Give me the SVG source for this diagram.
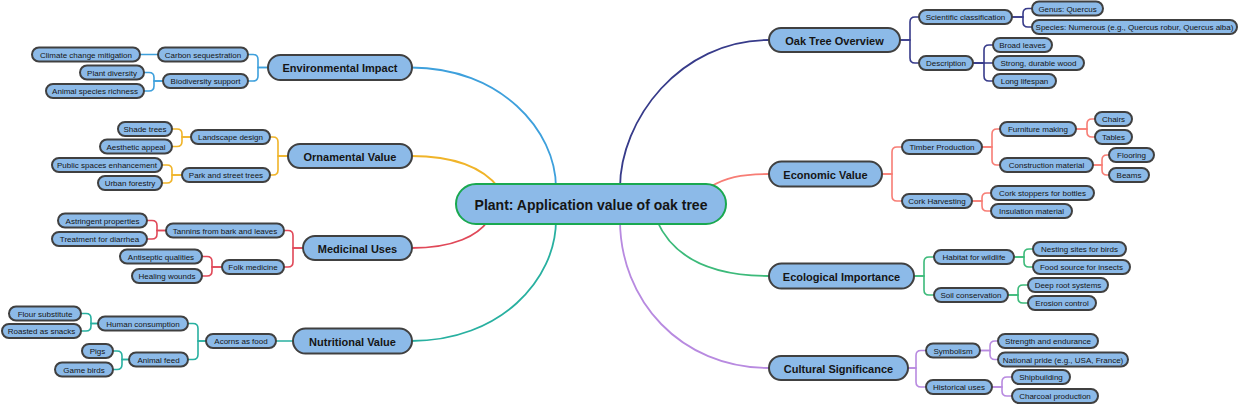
<svg xmlns="http://www.w3.org/2000/svg" width="1240" height="404" viewBox="0 0 1240 404">
<style>
.n{fill:#8cbae8;stroke:#404040;stroke-width:2}
.c{fill:#8cbae8;stroke:#1aa850;stroke-width:2}
text{font-family:"Liberation Sans",Arial,sans-serif;fill:#151515;text-anchor:middle;dominant-baseline:central}
.s{font-size:8px}
.m{font-size:11px;font-weight:bold}
.ct{font-size:14px;font-weight:bold}
.e{fill:none;stroke-width:1.6;stroke-linecap:round}
.mc{fill:none;stroke-width:1.8}
.env{stroke:#3ea0dc}.orn{stroke:#f0b429}.med{stroke:#e04858}.nut{stroke:#28b0a0}
.oak{stroke:#373b8a}.ecv{stroke:#f77d75}.eco{stroke:#3cba7a}.cul{stroke:#b88ae0}
</style>
<rect width="1240" height="404" fill="#ffffff"/>
<g id="connectors">
<path class="mc env" d="M411 67.5 C500 67.5,556 130,556 188"/>
<path class="mc orn" d="M411 156 C460 156,485 170,499 188"/>
<path class="mc med" d="M411 248 C455 248,478 235,488 221"/>
<path class="mc nut" d="M411 341 C500 341,556 280,556 220"/>
<path class="mc oak" d="M769 40 C680 40,620 120,620 188"/>
<path class="mc ecv" d="M769 174 C740 174,725 178,710 187"/>
<path class="mc eco" d="M769 276 C700 276,670 250,657 221"/>
<path class="mc cul" d="M769 368 C680 368,620 300,620 220"/>

<path class="e env" d="M268 67.5 H258 V59.5 Q258 54.5 253 54.5 H248"/>
<path class="e env" d="M268 67.5 H258 V76 Q258 81 253 81 H248"/>
<path class="e env" d="M158 54.5 H140"/>
<path class="e env" d="M163 81 H154 V77.5 Q154 72.5 149 72.5 H144"/>
<path class="e env" d="M163 81 H154 V86 Q154 91 149 91 H144"/>

<path class="e orn" d="M288 156 H278 V142 Q278 137 273 137 H270"/>
<path class="e orn" d="M288 156 H278 V170 Q278 175 273 175 H270"/>
<path class="e orn" d="M191 137 H182 V134 Q182 129 177 129 H172"/>
<path class="e orn" d="M191 137 H182 V141.5 Q182 146.5 177 146.5 H172"/>
<path class="e orn" d="M182 175 H172 V170 Q172 165 167 165 H162"/>
<path class="e orn" d="M182 175 H172 V178 Q172 183 167 183 H162"/>

<path class="e med" d="M303 248 H293 V235.5 Q293 230.5 288 230.5 H284"/>
<path class="e med" d="M303 248 H293 V262 Q293 267 288 267 H284"/>
<path class="e med" d="M166 230.5 H157 V225.5 Q157 220.5 152 220.5 H147"/>
<path class="e med" d="M166 230.5 H157 V234 Q157 239 152 239 H147"/>
<path class="e med" d="M222 267 H212 V261.5 Q212 256.5 207 256.5 H202"/>
<path class="e med" d="M222 267 H212 V271 Q212 276 207 276 H202"/>

<path class="e nut" d="M293 341 H276"/>
<path class="e nut" d="M206 341 H198 V328.5 Q198 323.5 193 323.5 H188"/>
<path class="e nut" d="M206 341 H198 V354.5 Q198 359.5 193 359.5 H188"/>
<path class="e nut" d="M98 323.5 H91 V318.5 Q91 313.5 86 313.5 H81"/>
<path class="e nut" d="M98 323.5 H91 V326 Q91 331 86 331 H81"/>
<path class="e nut" d="M129 359.5 H122 V356 Q122 351 117 351 H113"/>
<path class="e nut" d="M129 359.5 H122 V364.5 Q122 369.5 117 369.5 H113"/>

<path class="e oak" d="M900 40 H910 V22 Q910 17 915 17 H919"/>
<path class="e oak" d="M900 40 H910 V58 Q910 63 915 63 H919"/>
<path class="e oak" d="M1012 17 H1023 V13.5 Q1023 8.5 1028 8.5 H1032"/>
<path class="e oak" d="M1012 17 H1023 V22 Q1023 27 1028 27 H1032"/>
<path class="e oak" d="M973 63 H984 V50 Q984 45 989 45 H993"/>
<path class="e oak" d="M973 63 H993"/>
<path class="e oak" d="M973 63 H984 V76 Q984 81 989 81 H993"/>

<path class="e ecv" d="M882 174 H892 V152 Q892 147 897 147 H902"/>
<path class="e ecv" d="M882 174 H892 V196 Q892 201 897 201 H902"/>
<path class="e ecv" d="M982 147 H992 V134 Q992 129 997 129 H1000"/>
<path class="e ecv" d="M982 147 H992 V160 Q992 165 997 165 H1000"/>
<path class="e ecv" d="M1076 129 H1087 V124 Q1087 119 1092 119 H1095"/>
<path class="e ecv" d="M1076 129 H1087 V132 Q1087 137 1092 137 H1095"/>
<path class="e ecv" d="M1093 165 H1102 V160 Q1102 155 1107 155 H1109"/>
<path class="e ecv" d="M1093 165 H1102 V170 Q1102 175 1107 175 H1109"/>
<path class="e ecv" d="M972 201 H982 V198 Q982 193 987 193 H991"/>
<path class="e ecv" d="M972 201 H982 V206 Q982 211 987 211 H991"/>

<path class="e eco" d="M914 276 H924 V262 Q924 257 929 257 H934"/>
<path class="e eco" d="M914 276 H924 V290 Q924 295 929 295 H934"/>
<path class="e eco" d="M1014 257 H1024 V254 Q1024 249 1029 249 H1033"/>
<path class="e eco" d="M1014 257 H1024 V262 Q1024 267 1029 267 H1033"/>
<path class="e eco" d="M1008 295 H1018 V290 Q1018 285 1023 285 H1028"/>
<path class="e eco" d="M1008 295 H1018 V298 Q1018 303 1023 303 H1028"/>

<path class="e cul" d="M908 368 H916 V355.5 Q916 350.5 921 350.5 H926"/>
<path class="e cul" d="M908 368 H916 V382 Q916 387 921 387 H926"/>
<path class="e cul" d="M980 350.5 H990 V346 Q990 341 995 341 H998"/>
<path class="e cul" d="M980 350.5 H990 V354.5 Q990 359.5 995 359.5 H998"/>
<path class="e cul" d="M992 387 H1002 V382 Q1002 377 1007 377 H1012"/>
<path class="e cul" d="M992 387 H1002 V391 Q1002 396 1007 396 H1012"/>
</g>

<g id="root"><rect class="c" x="456" y="184" width="270" height="40" rx="20"/><text class="ct" x="591" y="205">Plant: Application value of oak tree</text></g>

<g id="env"><rect class="n" x="268" y="55" width="144" height="25" rx="12.5"/><text class="m" x="340" y="68">Environmental Impact</text></g>
<g id="env-carbon"><rect class="n" x="158" y="47.5" width="90" height="14" rx="7"/><text class="s" x="203" y="55">Carbon sequestration</text></g>
<g id="env-bio"><rect class="n" x="163" y="74" width="85" height="14" rx="7"/><text class="s" x="205.5" y="81.5">Biodiversity support</text></g>
<g id="env-climate"><rect class="n" x="32" y="47.5" width="108" height="14" rx="7"/><text class="s" x="86" y="55">Climate change mitigation</text></g>
<g id="env-plant"><rect class="n" x="80" y="65.5" width="64" height="14" rx="7"/><text class="s" x="112" y="73">Plant diversity</text></g>
<g id="env-animal"><rect class="n" x="46" y="84" width="98" height="14" rx="7"/><text class="s" x="95" y="91.5">Animal species richness</text></g>

<g id="orn"><rect class="n" x="288" y="144" width="124" height="24" rx="12"/><text class="m" x="350" y="156.5">Ornamental Value</text></g>
<g id="orn-landscape"><rect class="n" x="191" y="130" width="79" height="14" rx="7"/><text class="s" x="230.5" y="137.5">Landscape design</text></g>
<g id="orn-park"><rect class="n" x="182" y="168" width="88" height="14" rx="7"/><text class="s" x="226" y="175.5">Park and street trees</text></g>
<g id="orn-shade"><rect class="n" x="118" y="122" width="54" height="14" rx="7"/><text class="s" x="145" y="129.5">Shade trees</text></g>
<g id="orn-aesthetic"><rect class="n" x="100" y="139.5" width="72" height="14" rx="7"/><text class="s" x="136" y="147">Aesthetic appeal</text></g>
<g id="orn-public"><rect class="n" x="52" y="158" width="110" height="14" rx="7"/><text class="s" x="107" y="165.5">Public spaces enhancement</text></g>
<g id="orn-urban"><rect class="n" x="98" y="176" width="64" height="14" rx="7"/><text class="s" x="130" y="183.5">Urban forestry</text></g>

<g id="med"><rect class="n" x="303" y="236" width="109" height="24" rx="12"/><text class="m" x="357.5" y="248.5">Medicinal Uses</text></g>
<g id="med-tannins"><rect class="n" x="166" y="223.5" width="118" height="14" rx="7"/><text class="s" x="225" y="231">Tannins from bark and leaves</text></g>
<g id="med-folk"><rect class="n" x="222" y="260" width="62" height="14" rx="7"/><text class="s" x="253" y="267.5">Folk medicine</text></g>
<g id="med-astringent"><rect class="n" x="58" y="213.5" width="89" height="14" rx="7"/><text class="s" x="102.5" y="221">Astringent properties</text></g>
<g id="med-diarrhea"><rect class="n" x="52" y="232" width="95" height="14" rx="7"/><text class="s" x="99.5" y="239.5">Treatment for diarrhea</text></g>
<g id="med-antiseptic"><rect class="n" x="120" y="249.5" width="82" height="14" rx="7"/><text class="s" x="161" y="257">Antiseptic qualities</text></g>
<g id="med-healing"><rect class="n" x="132" y="269" width="70" height="14" rx="7"/><text class="s" x="167" y="276.5">Healing wounds</text></g>

<g id="nut"><rect class="n" x="293" y="328.5" width="119" height="25" rx="12.5"/><text class="m" x="352.5" y="341.5">Nutritional Value</text></g>
<g id="nut-acorns"><rect class="n" x="206" y="334" width="70" height="14" rx="7"/><text class="s" x="241" y="341.5">Acorns as food</text></g>
<g id="nut-human"><rect class="n" x="98" y="316.5" width="90" height="14" rx="7"/><text class="s" x="143" y="324">Human consumption</text></g>
<g id="nut-animal"><rect class="n" x="129" y="352.5" width="59" height="14" rx="7"/><text class="s" x="158.5" y="360">Animal feed</text></g>
<g id="nut-flour"><rect class="n" x="9" y="306.5" width="72" height="14" rx="7"/><text class="s" x="45" y="314">Flour substitute</text></g>
<g id="nut-roasted"><rect class="n" x="2" y="324" width="79" height="14" rx="7"/><text class="s" x="41.5" y="331.5">Roasted as snacks</text></g>
<g id="nut-pigs"><rect class="n" x="82" y="344" width="31" height="14" rx="7"/><text class="s" x="97.5" y="351.5">Pigs</text></g>
<g id="nut-birds"><rect class="n" x="55" y="362.5" width="58" height="14" rx="7"/><text class="s" x="84" y="370">Game birds</text></g>

<g id="oak"><rect class="n" x="769" y="28" width="131" height="24" rx="12"/><text class="m" x="834.5" y="40.5">Oak Tree Overview</text></g>
<g id="oak-sci"><rect class="n" x="919" y="10" width="93" height="14" rx="7"/><text class="s" x="965.5" y="17.5">Scientific classification</text></g>
<g id="oak-desc"><rect class="n" x="919" y="56" width="54" height="14" rx="7"/><text class="s" x="946" y="63.5">Description</text></g>
<g id="oak-genus"><rect class="n" x="1032" y="1.5" width="71" height="14" rx="7"/><text class="s" x="1067.5" y="9">Genus: Quercus</text></g>
<g id="oak-species"><rect class="n" x="1032" y="20" width="205" height="14" rx="7"/><text class="s" x="1134.5" y="27.5">Species: Numerous (e.g., Quercus robur, Quercus alba)</text></g>
<g id="oak-leaves"><rect class="n" x="993" y="38" width="59" height="14" rx="7"/><text class="s" x="1022.5" y="45.5">Broad leaves</text></g>
<g id="oak-wood"><rect class="n" x="993" y="56" width="91" height="14" rx="7"/><text class="s" x="1038.5" y="63.5">Strong, durable wood</text></g>
<g id="oak-life"><rect class="n" x="993" y="74" width="63" height="14" rx="7"/><text class="s" x="1024.5" y="81.5">Long lifespan</text></g>

<g id="ecv"><rect class="n" x="769" y="161.5" width="113" height="25" rx="12.5"/><text class="m" x="825.5" y="174.5">Economic Value</text></g>
<g id="ecv-timber"><rect class="n" x="902" y="140" width="80" height="14" rx="7"/><text class="s" x="942" y="147.5">Timber Production</text></g>
<g id="ecv-cork"><rect class="n" x="902" y="194" width="70" height="14" rx="7"/><text class="s" x="937" y="201.5">Cork Harvesting</text></g>
<g id="ecv-furniture"><rect class="n" x="1000" y="122" width="76" height="14" rx="7"/><text class="s" x="1038" y="129.5">Furniture making</text></g>
<g id="ecv-construction"><rect class="n" x="1000" y="158" width="93" height="14" rx="7"/><text class="s" x="1046.5" y="165.5">Construction material</text></g>
<g id="ecv-chairs"><rect class="n" x="1095" y="112" width="37" height="14" rx="7"/><text class="s" x="1113.5" y="119.5">Chairs</text></g>
<g id="ecv-tables"><rect class="n" x="1095" y="130" width="37" height="14" rx="7"/><text class="s" x="1113.5" y="137.5">Tables</text></g>
<g id="ecv-flooring"><rect class="n" x="1109" y="148" width="45" height="14" rx="7"/><text class="s" x="1131.5" y="155.5">Flooring</text></g>
<g id="ecv-beams"><rect class="n" x="1109" y="168" width="40" height="14" rx="7"/><text class="s" x="1129" y="175.5">Beams</text></g>
<g id="ecv-stoppers"><rect class="n" x="991" y="186" width="103" height="14" rx="7"/><text class="s" x="1042.5" y="193.5">Cork stoppers for bottles</text></g>
<g id="ecv-insulation"><rect class="n" x="991" y="204" width="81" height="14" rx="7"/><text class="s" x="1031.5" y="211.5">Insulation material</text></g>

<g id="eco"><rect class="n" x="769" y="263.5" width="145" height="25" rx="12.5"/><text class="m" x="841.5" y="276.5">Ecological Importance</text></g>
<g id="eco-habitat"><rect class="n" x="934" y="250" width="80" height="14" rx="7"/><text class="s" x="974" y="257.5">Habitat for wildlife</text></g>
<g id="eco-soil"><rect class="n" x="934" y="288" width="74" height="14" rx="7"/><text class="s" x="971" y="295.5">Soil conservation</text></g>
<g id="eco-nesting"><rect class="n" x="1033" y="242" width="93" height="14" rx="7"/><text class="s" x="1079.5" y="249.5">Nesting sites for birds</text></g>
<g id="eco-food"><rect class="n" x="1033" y="260" width="97" height="14" rx="7"/><text class="s" x="1081.5" y="267.5">Food source for insects</text></g>
<g id="eco-roots"><rect class="n" x="1028" y="278" width="80" height="14" rx="7"/><text class="s" x="1068" y="285.5">Deep root systems</text></g>
<g id="eco-erosion"><rect class="n" x="1028" y="296" width="68" height="14" rx="7"/><text class="s" x="1062" y="303.5">Erosion control</text></g>

<g id="cul"><rect class="n" x="769" y="356" width="139" height="24" rx="12"/><text class="m" x="838.5" y="368.5">Cultural Significance</text></g>
<g id="cul-symbolism"><rect class="n" x="926" y="343.5" width="54" height="14" rx="7"/><text class="s" x="953" y="351">Symbolism</text></g>
<g id="cul-historical"><rect class="n" x="926" y="380" width="66" height="14" rx="7"/><text class="s" x="959" y="387.5">Historical uses</text></g>
<g id="cul-strength"><rect class="n" x="998" y="334" width="100" height="14" rx="7"/><text class="s" x="1048" y="341.5">Strength and endurance</text></g>
<g id="cul-pride"><rect class="n" x="998" y="352.5" width="130" height="14" rx="7"/><text class="s" x="1063" y="360">National pride (e.g., USA, France)</text></g>
<g id="cul-ship"><rect class="n" x="1012" y="370" width="58" height="14" rx="7"/><text class="s" x="1041" y="377.5">Shipbuilding</text></g>
<g id="cul-charcoal"><rect class="n" x="1012" y="389" width="86" height="14" rx="7"/><text class="s" x="1055" y="396.5">Charcoal production</text></g>
</svg>
